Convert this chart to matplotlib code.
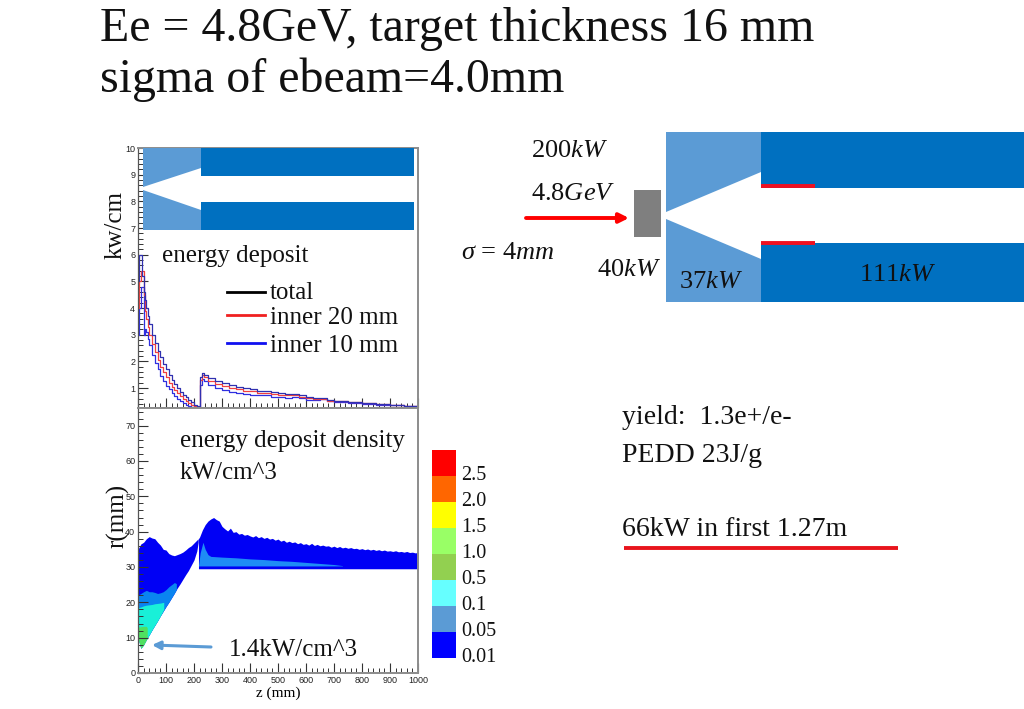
import matplotlib
matplotlib.use('Agg')
import matplotlib.pyplot as plt
from matplotlib.patches import Polygon, Rectangle
from matplotlib.ticker import MultipleLocator

plt.rcParams['font.family'] = ['Liberation Serif', 'DejaVu Serif']
plt.rcParams['mathtext.fontset'] = 'custom'
plt.rcParams['mathtext.rm'] = 'Liberation Serif'
plt.rcParams['mathtext.it'] = 'Liberation Serif:italic'

# energy deposit per cm, cone part and tube part
z_cone = [0, 5, 10, 15, 20, 25, 30, 35, 40, 50, 60, 70, 80, 90, 100, 110, 120, 130, 140, 150, 160, 170, 180, 190, 200, 210, 218]
total_cone = [5.0, 6.0, 6.0, 5.2, 4.6, 4.3, 4.0, 3.7, 3.4, 3.0, 2.7, 2.4, 2.15, 1.9, 1.7, 1.5, 1.3, 1.15, 1.0, 0.85, 0.75, 0.65, 0.55, 0.47, 0.38, 0.32, 0.28]
inner20_cone = [4.0, 5.0, 5.4, 5.4, 4.5, 3.9, 3.6, 3.3, 3.0, 2.65, 2.35, 2.05, 1.8, 1.6, 1.4, 1.2, 1.05, 0.92, 0.8, 0.7, 0.6, 0.52, 0.44, 0.38, 0.32, 0.28, 0.25]
inner10_cone = [3.0, 4.0, 4.8, 4.8, 3.0, 3.2, 3.1, 2.85, 2.6, 2.25, 1.95, 1.7, 1.45, 1.25, 1.08, 0.95, 0.82, 0.7, 0.6, 0.52, 0.45, 0.38, 0.32, 0.27, 0.25, 0.25, 0.25]

z_tube = [218, 222, 228, 235, 250, 275, 300, 325, 350, 375, 400, 425, 450, 475, 500, 525, 550, 575, 600, 625, 650, 675, 700, 750, 800, 850, 900, 950, 1000]
total_tube = [0.3, 1.4, 1.55, 1.5, 1.38, 1.25, 1.17, 1.1, 1.05, 1.0, 0.98, 0.9, 0.88, 0.85, 0.83, 0.78, 0.76, 0.72, 0.68, 0.62, 0.62, 0.55, 0.52, 0.48, 0.43, 0.4, 0.37, 0.33, 0.3]
inner20_tube = [0.28, 1.3, 1.5, 1.42, 1.28, 1.14, 1.06, 1.0, 0.95, 0.9, 0.87, 0.82, 0.8, 0.76, 0.75, 0.72, 0.72, 0.68, 0.62, 0.58, 0.6, 0.52, 0.5, 0.46, 0.42, 0.39, 0.36, 0.33, 0.3]
inner10_tube = [0.26, 1.1, 1.35, 1.28, 1.12, 1.0, 0.92, 0.86, 0.82, 0.78, 0.75, 0.72, 0.72, 0.68, 0.66, 0.64, 0.65, 0.62, 0.56, 0.54, 0.57, 0.5, 0.47, 0.44, 0.41, 0.38, 0.35, 0.32, 0.29]

# energy deposit density, contour edges in r(mm)
z_edge = [0, 10, 20, 30, 40, 50, 60, 70, 80, 90, 100, 110, 120, 130, 140, 150, 160, 170, 180, 190, 200, 210, 215]
r_top_cone = [35, 36.5, 37, 38, 38.6, 38.2, 38, 37, 36.2, 35, 34.8, 33.8, 33.4, 33.2, 33.5, 33.8, 34.2, 34.8, 35.5, 36, 36.8, 37.6, 38]
r_cone_low = [10, 7, 8, 9.5, 10.8, 12.2, 13.5, 14.8, 16.2, 17.5, 18.8, 20, 21.3, 22.6, 24, 25.2, 26.5, 27.8, 29, 30.5, 32, 34.5, 37]

z_mid = [0, 10, 20, 30, 40, 50, 60, 70, 80, 90, 100, 110, 120, 130, 137]
r_mid_top = [22, 22.5, 23, 23.4, 23, 23, 22.8, 22.5, 22.7, 23, 23.6, 24.4, 25, 25.6, 25.3]
r_mid_low = [10, 7, 8, 9.5, 10.8, 12.2, 13.5, 14.8, 16.2, 17.5, 18.8, 20, 21.3, 22.6, 23.6]

z_cyan = [0, 10, 20, 30, 40, 50, 60, 70, 80, 92]
r_cyan_top = [18.5, 18.7, 19, 19.2, 19.3, 19.4, 19.6, 19.7, 19.8, 20]
r_cyan_low = [10, 7, 8, 9.5, 10.8, 12.2, 13.5, 14.8, 16.2, 18]

z_green = [0, 10, 20, 30, 33]
r_green_top = [13, 13.1, 13.2, 13.2, 12.8]
r_green_low = [10, 7, 8, 9.5, 10]

z_tube_edge = [216, 220, 230, 240, 250, 260, 270, 280, 290, 300, 310, 320, 330, 340, 350, 360, 370, 380, 390, 400,
               410, 420, 430, 440, 450, 460, 470, 480, 490, 500, 510, 520, 530, 540, 550, 560, 570, 580, 590, 600,
               610, 620, 630, 640, 650, 660, 670, 680, 690, 700, 710, 720, 730, 740, 750, 760, 770, 780, 790, 800,
               810, 820, 830, 840, 850, 860, 870, 880, 890, 900, 910, 920, 930, 940, 950, 960, 970, 980, 990, 1000]
r_tube_top = [38, 38.5, 40.5, 42, 43, 43.6, 44, 43.4, 43, 41.5, 40.8, 40.2, 41, 39.8, 40, 39.3, 39.5, 39, 39.2, 38.8,
              38.5, 38.9, 38.3, 38.6, 38.1, 38.4, 37.9, 38.1, 37.6, 37.9, 37.3, 37.6, 37, 37.3, 36.9, 37.1, 36.6, 36.9, 36.4, 36.6,
              36.2, 36.7, 36.1, 36.4, 36, 36.2, 35.9, 36, 35.6, 35.9, 35.5, 35.8, 35.4, 35.6, 35.3, 35.5, 35.2, 35.3, 35, 35.2,
              34.9, 35.1, 34.8, 35, 34.7, 34.9, 34.6, 34.8, 34.5, 34.6, 34.4, 34.6, 34.3, 34.4, 34.2, 34.4, 34.1, 34.2, 34, 34.1]
tube_inner = 29.5

z_tube_mid = [216, 222, 232, 240, 250, 260, 300, 350, 400, 450, 500, 550, 600, 650, 700, 730]
r_tube_mid_top = [30.3, 34, 37, 35, 33.5, 33, 32.8, 32.6, 32.3, 32.1, 31.8, 31.6, 31.3, 31, 30.7, 30.4]
r_tube_mid_low = [30.3, 30.3, 30.3, 30.3, 30.3, 30.3, 30.3, 30.3, 30.3, 30.3, 30.3, 30.3, 30.3, 30.3, 30.3, 30.3]

bar_labels = ['0.01', '0.05', '0.1', '0.5', '1.0', '1.5', '2.0', '2.5']
bar_colors = ['#0000ff', '#5b9bd5', '#66ffff', '#92d050', '#99ff66', '#ffff00', '#ff6600', '#ff0000']

W, H = 1024, 709
fig = plt.figure(figsize=(W / 100, H / 100), dpi=100)


def px_axes(left, top, right, bottom):
    return fig.add_axes([left / W, 1 - bottom / H, (right - left) / W, (bottom - top) / H])


def style(ax, ymajor, yminor):
    ax.set_xlim(0, 1000)
    ax.xaxis.set_major_locator(MultipleLocator(100))
    ax.xaxis.set_minor_locator(MultipleLocator(20))
    ax.yaxis.set_major_locator(MultipleLocator(ymajor))
    ax.yaxis.set_minor_locator(MultipleLocator(yminor))
    ax.tick_params(which='major', direction='in', length=7, width=0.8, color='#333333', labelsize=6.5,
                   pad=2, labelfontfamily='Liberation Sans', labelcolor='#222222')
    ax.tick_params(which='minor', direction='in', length=3.5, width=0.7, color='#333333')
    for s in ax.spines.values():
        s.set_color('#8c8c8c')
        s.set_linewidth(1.4)
    ax.spines['left'].set_color('#555555')
    ax.spines['left'].set_linewidth(0.9)


top = px_axes(138, 148, 418, 408)
top.step(z_cone, inner10_cone, where='post', color='#2f2fe0', lw=0.9)
top.step(z_tube, inner10_tube, where='post', color='#2f2fe0', lw=0.9)
top.step(z_cone, inner20_cone, where='post', color='#f04040', lw=0.9)
top.step(z_tube, inner20_tube, where='post', color='#f04040', lw=0.9)
top.step(z_cone, total_cone, where='post', color='#3030b0', lw=0.9)
top.step(z_tube, total_tube, where='post', color='#3030b0', lw=0.9)
top.set_ylim(0.25, 10)
style(top, 1, 0.2)
top.set_xticklabels([])
top.set_yticks(range(1, 11))

low = px_axes(138, 408, 418, 673)
low.fill_between(z_edge, r_cone_low, r_top_cone, color='#0000f5', lw=0)
low.fill_between(z_tube_edge, tube_inner, r_tube_top, color='#0000f5', lw=0)
low.fill_between(z_mid, r_mid_low, r_mid_top, color='#0a84f0', lw=0)
low.fill_between(z_tube_mid, r_tube_mid_low, r_tube_mid_top, color='#1e8cf5', lw=0)
low.fill_between(z_cyan, r_cyan_low, r_cyan_top, color='#19f0d8', lw=0)
low.fill_between(z_green, r_green_low, r_green_top, color='#4fe060', lw=0)
low.set_ylim(0, 75)
style(low, 10, 2)
low.set_xticks(range(0, 1001, 100))
low.set_xlabel('z (mm)', fontsize=11, labelpad=1)

# overlay in pixel coordinates for the slide drawings and text
ov = fig.add_axes([0, 0, 1, 1], zorder=5)
ov.set_xlim(0, W)
ov.set_ylim(H, 0)
ov.axis('off')
ov.patch.set_alpha(0)

DARK = '#0070c0'
LIGHT = '#5b9bd5'


def poly(points, color):
    ov.add_patch(Polygon(points, closed=True, facecolor=color, edgecolor='none'))


# small sketch inside the upper plot
poly([(143, 148), (201, 148), (201, 168), (143, 187)], LIGHT)
poly([(143, 190), (201, 210), (201, 230), (143, 230)], LIGHT)
poly([(201, 148), (414, 148), (414, 176), (201, 176)], DARK)
poly([(201, 202), (414, 202), (414, 230), (201, 230)], DARK)

# big sketch on the right
poly([(666, 132), (761, 132), (761, 172), (666, 212)], LIGHT)
poly([(666, 219), (761, 259), (761, 302), (666, 302)], LIGHT)
poly([(761, 132), (1024, 132), (1024, 188), (761, 188)], DARK)
poly([(761, 243), (1024, 243), (1024, 302), (761, 302)], DARK)
ov.add_patch(Rectangle((634, 190), 27, 47, facecolor='#7f7f7f', edgecolor='none'))
ov.plot([761, 815], [186, 186], color='#f01020', lw=2.8, solid_capstyle='butt')
ov.plot([761, 815], [243, 243], color='#f01020', lw=2.8, solid_capstyle='butt')
ov.annotate('', xy=(629, 218), xytext=(526, 218),
            arrowprops=dict(arrowstyle='-|>', color='#ff0000', lw=2.8, mutation_scale=14, shrinkA=0, shrinkB=0))
ov.plot([624, 898], [548, 548], color='#e8141c', lw=2.8, solid_capstyle='butt')
ov.annotate('', xy=(152, 645), xytext=(211, 647),
            arrowprops=dict(arrowstyle='-|>', color='#5b9bd5', lw=2.2, mutation_scale=12, shrinkA=0, shrinkB=0))

# legend lines
ov.plot([227, 265], [292, 292], color='black', lw=2)
ov.plot([227, 265], [315, 315], color='#f02020', lw=2)
ov.plot([227, 265], [343, 343], color='#1010f0', lw=2)

# colour bar
for i, (lab, col) in enumerate(zip(bar_labels, bar_colors)):
    ov.add_patch(Rectangle((432, 658 - (i + 1) * 26), 24, 26, facecolor=col, edgecolor='none'))
    ov.text(461, 657 - i * 26, lab, fontsize=14.5, va='center', ha='left', color='#111111')


def label(x, y, s, size, **kw):
    ov.text(x, y, s, fontsize=size, ha='left', va='baseline', color='#111111', **kw)


label(100, 41, 'Ee = 4.8GeV, target thickness 16 mm', 34.5)
label(100, 92, 'sigma of ebeam=4.0mm', 34.5)
label(162, 262, 'energy deposit', 18)
label(270, 299, 'total', 18)
label(270, 324, 'inner 20 mm', 18)
label(270, 352, 'inner 10 mm', 18)
label(180, 447, 'energy deposit density', 18)
label(180, 479, 'kW/cm^3', 18)
label(229, 656, '1.4kW/cm^3', 18)
label(531, 157, r'200$kW$', 19)
label(531, 200, r'4.8$GeV$', 19)
label(461, 259, r'$\sigma$ = 4$mm$', 19)
label(597, 276, r'40$kW$', 19)
label(679, 288, r'37$kW$', 19)
label(859, 281, r'111$kW$', 19)
label(622, 424, 'yield:  1.3e+/e-', 20)
label(622, 462, 'PEDD 23J/g', 20)
label(622, 536, '66kW in first 1.27m', 20)
ov.text(116, 259, 'kw/cm', fontsize=18, rotation=90, ha='left', va='center', color='#111111', rotation_mode='anchor')
ov.text(118, 516, 'r(mm)', fontsize=18, rotation=90, ha='center', va='center', color='#111111')

fig.savefig('out.png', dpi=100)
